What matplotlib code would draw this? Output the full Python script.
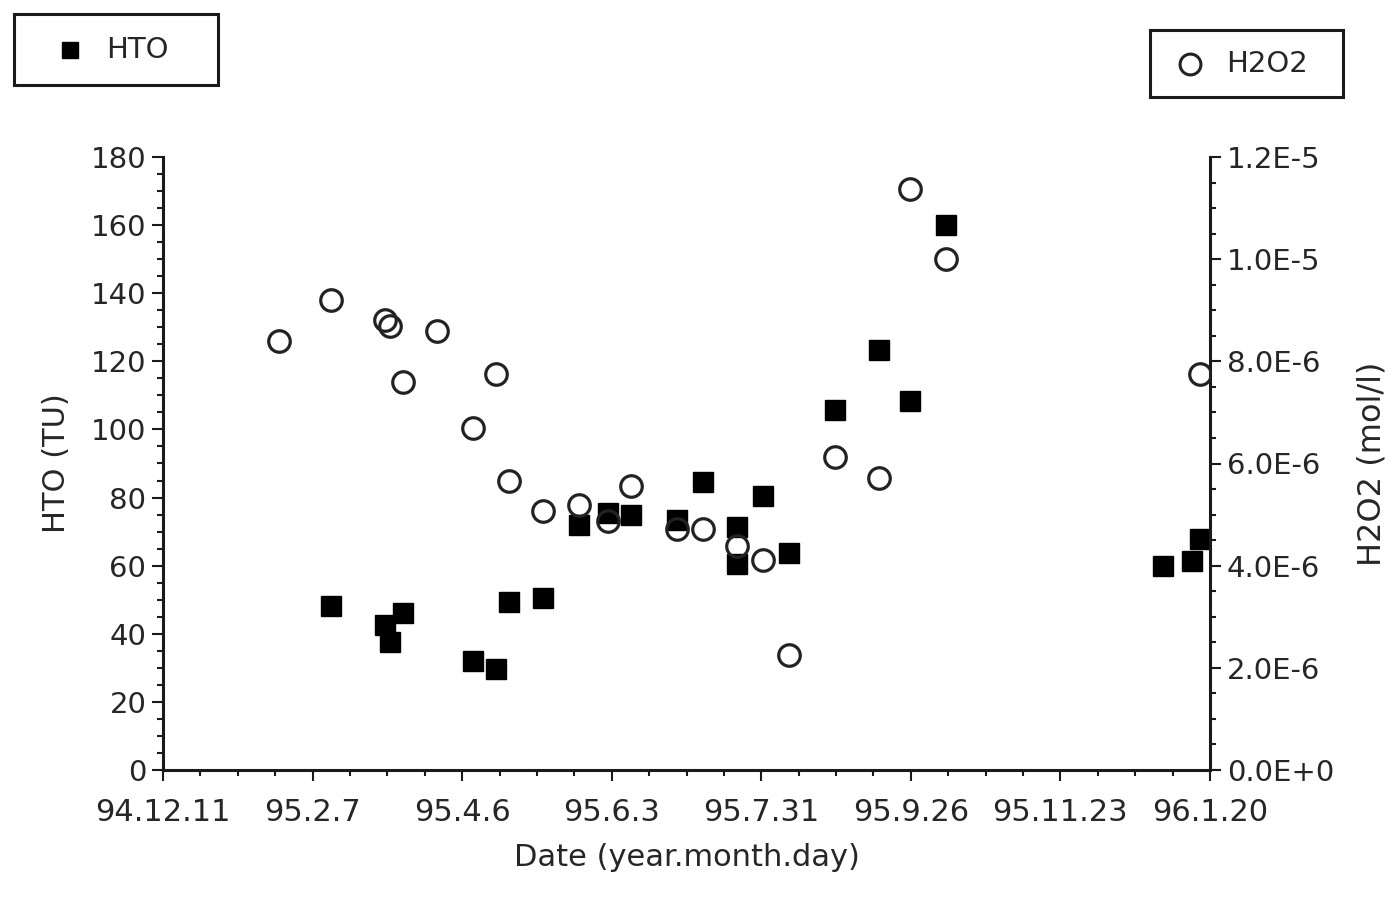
import numpy as np
import matplotlib
matplotlib.use('Agg')
import matplotlib.pyplot as plt
import matplotlib.dates as mdates
from matplotlib.ticker import AutoMinorLocator, FixedLocator
from matplotlib.lines import Line2D
from matplotlib.patches import Rectangle

# HTO samples (TU)
hto_dates = ['1995-02-14', '1995-03-07', '1995-03-09', '1995-03-14', '1995-04-10',
             '1995-04-19', '1995-04-24', '1995-05-07', '1995-05-21', '1995-06-01',
             '1995-06-10', '1995-06-28', '1995-07-08', '1995-07-21', '1995-07-21',
             '1995-07-31', '1995-08-10', '1995-08-28', '1995-09-14', '1995-09-26',
             '1995-10-10', '1996-01-02', '1996-01-13', '1996-01-16']
hto_values = [48.3, 42.6, 37.6, 46.2, 32.1,
              29.7, 49.4, 50.6, 71.8, 75.4,
              74.9, 73.3, 84.7, 71.3, 60.5,
              80.5, 63.8, 105.7, 123.3, 108.3,
              160.0, 60.0, 61.5, 67.7]

# H2O2 samples (mol/l)
h2o2_dates = ['1995-01-25', '1995-02-14', '1995-03-07', '1995-03-09', '1995-03-14',
              '1995-03-27', '1995-04-10', '1995-04-19', '1995-04-24', '1995-05-07',
              '1995-05-21', '1995-06-01', '1995-06-10', '1995-06-28', '1995-07-08',
              '1995-07-21', '1995-07-31', '1995-08-10', '1995-08-28', '1995-09-14',
              '1995-09-26', '1995-10-10', '1996-01-16']
h2o2_values = [8.4e-6, 9.2e-6, 8.8e-6, 8.7e-6, 7.6e-6,
               8.6e-6, 6.7e-6, 7.75e-6, 5.65e-6, 5.07e-6,
               5.18e-6, 4.88e-6, 5.55e-6, 4.72e-6, 4.72e-6,
               4.39e-6, 4.12e-6, 2.25e-6, 6.12e-6, 5.72e-6,
               1.138e-5, 1.0e-5, 7.75e-6]

date_start = '1994-12-11'
date_end = '1996-01-20'
x_labels = ['94.12.11', '95.2.7', '95.4.6', '95.6.3', '95.7.31', '95.9.26', '95.11.23', '96.1.20']
left_ticks = [0, 20, 40, 60, 80, 100, 120, 140, 160, 180]
right_ticks = [0, 2e-6, 4e-6, 6e-6, 8e-6, 1.0e-5, 1.2e-5]
right_labels = ['0.0E+0', '2.0E-6', '4.0E-6', '6.0E-6', '8.0E-6', '1.0E-5', '1.2E-5']

plt.rcParams['font.family'] = 'DejaVu Sans'
txt = '#262626'
W, H = 1400, 901

fig = plt.figure(figsize=(14, 9.01), dpi=100)
ax = fig.add_axes([163 / W, 1 - 770 / H, (1210 - 163) / W, (770 - 157) / H])
ax2 = ax.twinx()

hx = mdates.date2num(np.array(hto_dates, dtype='datetime64[D]'))
ox = mdates.date2num(np.array(h2o2_dates, dtype='datetime64[D]'))
x0 = mdates.date2num(np.datetime64(date_start))
x1 = mdates.date2num(np.datetime64(date_end))

ax.plot(hx, hto_values, 's', color='black', ms=14, zorder=3)
ax2.plot(ox, h2o2_values, 'o', mfc='none', mec='#222222', mew=2.3, ms=15.5, zorder=4)

ax.set_xlim(x0, x1)
ax.set_ylim(0, 180)
ax2.set_ylim(0, 1.2e-5)

ax.xaxis.set_major_locator(FixedLocator(np.linspace(x0, x1, len(x_labels))))
ax.set_xticklabels(x_labels)
ax.xaxis.set_minor_locator(AutoMinorLocator(4))
ax.set_yticks(left_ticks)
ax.yaxis.set_minor_locator(AutoMinorLocator(4))
ax2.set_yticks(right_ticks)
ax2.set_yticklabels(right_labels)
ax2.yaxis.set_minor_locator(AutoMinorLocator(4))

for a in (ax, ax2):
    a.spines['top'].set_visible(False)
    for s in a.spines.values():
        s.set_linewidth(2.2)
        s.set_color('#1a1a1a')
    a.tick_params(which='major', direction='out', length=8, width=1.5, labelsize=21,
                  colors='#1a1a1a', labelcolor=txt, pad=4)
    a.tick_params(which='minor', direction='out', length=4, width=1.5, colors='#1a1a1a')
ax.tick_params(axis='x', which='major', labelsize=22, pad=12)
ax.spines['right'].set_visible(False)
ax2.spines['left'].set_visible(False)
ax2.spines['bottom'].set_visible(False)

ax.set_xlabel('Date (year.month.day)', fontsize=22, color=txt, labelpad=12)
ax.set_ylabel('HTO (TU)', fontsize=22, color=txt, labelpad=14)
ax2.set_ylabel('H2O2 (mol/l)', fontsize=23, color=txt, rotation=90, labelpad=16)


# separate boxed keys, one per series, placed in figure pixels
def key_box(x_left, y_top, x_right, y_bottom, marker_x, text_x, handle, label):
    fig.patches.append(Rectangle((x_left / W, 1 - y_bottom / H), (x_right - x_left) / W,
                                 (y_bottom - y_top) / H, transform=fig.transFigure,
                                 fill=False, edgecolor='#1a1a1a', linewidth=2.2))
    yc = 1 - (y_top + y_bottom) / 2 / H
    handle.set_data([marker_x / W], [yc])
    handle.set_transform(fig.transFigure)
    fig.lines.append(handle)
    fig.text(text_x / W, yc, label, fontsize=21, color=txt, va='center', ha='left')


key_box(14, 14, 218, 85, 70, 106,
        Line2D([], [], ls='none', marker='s', color='black', ms=12), 'HTO')
key_box(1150, 30, 1343, 97, 1190, 1226,
        Line2D([], [], ls='none', marker='o', mfc='none', mec='#222222', mew=2.2, ms=15), 'H2O2')

fig.savefig('out.png', dpi=100)
